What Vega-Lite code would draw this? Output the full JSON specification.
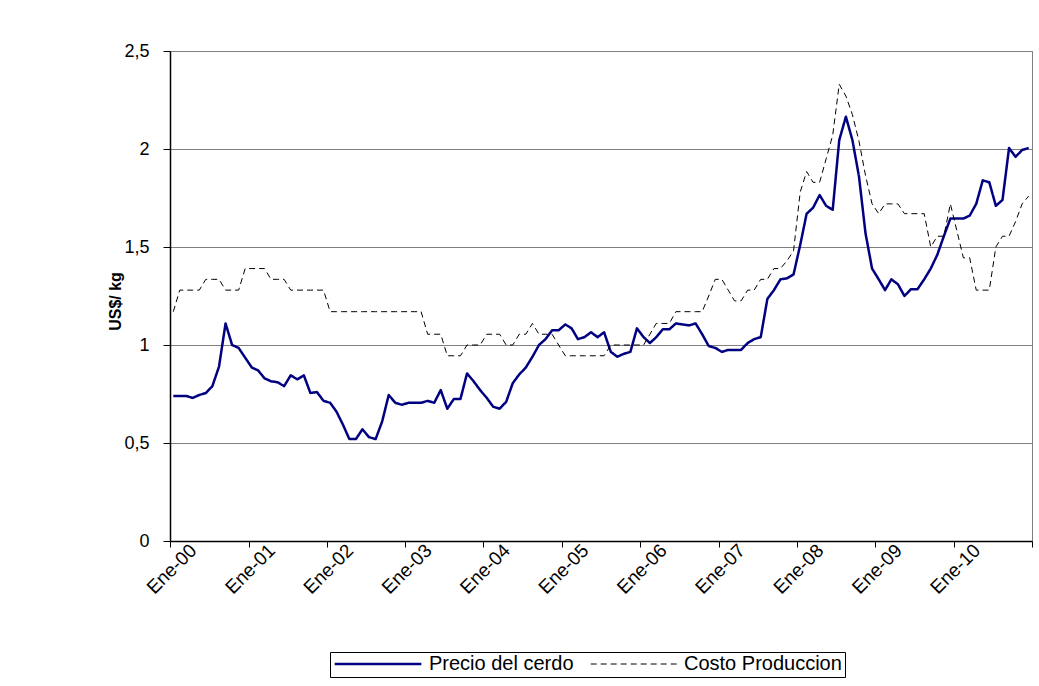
{
  "$schema": "https://vega.github.io/schema/vega-lite/v6.json",
  "width": 862,
  "height": 490,
  "autosize": {"type": "none"},
  "padding": {"left": 170, "top": 51, "right": 7, "bottom": 145},
  "background": "white",
  "config": {
    "font": "Liberation Sans",
    "view": {"stroke": "#808080", "strokeWidth": 1}
  },
  "data": {
    "values": [
      {"fecha": "2000-01", "Precio del cerdo": 0.74, "Costo Produccion": 1.17},
      {"fecha": "2000-02", "Precio del cerdo": 0.74, "Costo Produccion": 1.28},
      {"fecha": "2000-03", "Precio del cerdo": 0.74, "Costo Produccion": 1.28},
      {"fecha": "2000-04", "Precio del cerdo": 0.73, "Costo Produccion": 1.28},
      {"fecha": "2000-05", "Precio del cerdo": 0.745, "Costo Produccion": 1.28},
      {"fecha": "2000-06", "Precio del cerdo": 0.755, "Costo Produccion": 1.335},
      {"fecha": "2000-07", "Precio del cerdo": 0.79, "Costo Produccion": 1.335},
      {"fecha": "2000-08", "Precio del cerdo": 0.89, "Costo Produccion": 1.335},
      {"fecha": "2000-09", "Precio del cerdo": 1.11, "Costo Produccion": 1.28},
      {"fecha": "2000-10", "Precio del cerdo": 1.0, "Costo Produccion": 1.28},
      {"fecha": "2000-11", "Precio del cerdo": 0.985, "Costo Produccion": 1.28},
      {"fecha": "2000-12", "Precio del cerdo": 0.935, "Costo Produccion": 1.39},
      {"fecha": "2001-01", "Precio del cerdo": 0.885, "Costo Produccion": 1.39},
      {"fecha": "2001-02", "Precio del cerdo": 0.87, "Costo Produccion": 1.39},
      {"fecha": "2001-03", "Precio del cerdo": 0.83, "Costo Produccion": 1.39},
      {"fecha": "2001-04", "Precio del cerdo": 0.815, "Costo Produccion": 1.335},
      {"fecha": "2001-05", "Precio del cerdo": 0.81, "Costo Produccion": 1.335},
      {"fecha": "2001-06", "Precio del cerdo": 0.79, "Costo Produccion": 1.335},
      {"fecha": "2001-07", "Precio del cerdo": 0.845, "Costo Produccion": 1.28},
      {"fecha": "2001-08", "Precio del cerdo": 0.825, "Costo Produccion": 1.28},
      {"fecha": "2001-09", "Precio del cerdo": 0.845, "Costo Produccion": 1.28},
      {"fecha": "2001-10", "Precio del cerdo": 0.755, "Costo Produccion": 1.28},
      {"fecha": "2001-11", "Precio del cerdo": 0.76, "Costo Produccion": 1.28},
      {"fecha": "2001-12", "Precio del cerdo": 0.715, "Costo Produccion": 1.28},
      {"fecha": "2002-01", "Precio del cerdo": 0.705, "Costo Produccion": 1.17},
      {"fecha": "2002-02", "Precio del cerdo": 0.66, "Costo Produccion": 1.17},
      {"fecha": "2002-03", "Precio del cerdo": 0.595, "Costo Produccion": 1.17},
      {"fecha": "2002-04", "Precio del cerdo": 0.52, "Costo Produccion": 1.17},
      {"fecha": "2002-05", "Precio del cerdo": 0.52, "Costo Produccion": 1.17},
      {"fecha": "2002-06", "Precio del cerdo": 0.57, "Costo Produccion": 1.17},
      {"fecha": "2002-07", "Precio del cerdo": 0.53, "Costo Produccion": 1.17},
      {"fecha": "2002-08", "Precio del cerdo": 0.52, "Costo Produccion": 1.17},
      {"fecha": "2002-09", "Precio del cerdo": 0.61, "Costo Produccion": 1.17},
      {"fecha": "2002-10", "Precio del cerdo": 0.745, "Costo Produccion": 1.17},
      {"fecha": "2002-11", "Precio del cerdo": 0.705, "Costo Produccion": 1.17},
      {"fecha": "2002-12", "Precio del cerdo": 0.695, "Costo Produccion": 1.17},
      {"fecha": "2003-01", "Precio del cerdo": 0.705, "Costo Produccion": 1.17},
      {"fecha": "2003-02", "Precio del cerdo": 0.705, "Costo Produccion": 1.17},
      {"fecha": "2003-03", "Precio del cerdo": 0.705, "Costo Produccion": 1.17},
      {"fecha": "2003-04", "Precio del cerdo": 0.715, "Costo Produccion": 1.055},
      {"fecha": "2003-05", "Precio del cerdo": 0.705, "Costo Produccion": 1.055},
      {"fecha": "2003-06", "Precio del cerdo": 0.77, "Costo Produccion": 1.055},
      {"fecha": "2003-07", "Precio del cerdo": 0.675, "Costo Produccion": 0.945},
      {"fecha": "2003-08", "Precio del cerdo": 0.725, "Costo Produccion": 0.945},
      {"fecha": "2003-09", "Precio del cerdo": 0.725, "Costo Produccion": 0.945},
      {"fecha": "2003-10", "Precio del cerdo": 0.855, "Costo Produccion": 1.0},
      {"fecha": "2003-11", "Precio del cerdo": 0.815, "Costo Produccion": 1.0},
      {"fecha": "2003-12", "Precio del cerdo": 0.77, "Costo Produccion": 1.0},
      {"fecha": "2004-01", "Precio del cerdo": 0.73, "Costo Produccion": 1.055},
      {"fecha": "2004-02", "Precio del cerdo": 0.685, "Costo Produccion": 1.055},
      {"fecha": "2004-03", "Precio del cerdo": 0.675, "Costo Produccion": 1.055},
      {"fecha": "2004-04", "Precio del cerdo": 0.71, "Costo Produccion": 1.0},
      {"fecha": "2004-05", "Precio del cerdo": 0.805, "Costo Produccion": 1.0},
      {"fecha": "2004-06", "Precio del cerdo": 0.85, "Costo Produccion": 1.055},
      {"fecha": "2004-07", "Precio del cerdo": 0.885, "Costo Produccion": 1.055},
      {"fecha": "2004-08", "Precio del cerdo": 0.94, "Costo Produccion": 1.11},
      {"fecha": "2004-09", "Precio del cerdo": 1.0, "Costo Produccion": 1.055},
      {"fecha": "2004-10", "Precio del cerdo": 1.03, "Costo Produccion": 1.055},
      {"fecha": "2004-11", "Precio del cerdo": 1.075, "Costo Produccion": 1.055},
      {"fecha": "2004-12", "Precio del cerdo": 1.075, "Costo Produccion": 1.0},
      {"fecha": "2005-01", "Precio del cerdo": 1.105, "Costo Produccion": 0.945},
      {"fecha": "2005-02", "Precio del cerdo": 1.085, "Costo Produccion": 0.945},
      {"fecha": "2005-03", "Precio del cerdo": 1.03, "Costo Produccion": 0.945},
      {"fecha": "2005-04", "Precio del cerdo": 1.04, "Costo Produccion": 0.945},
      {"fecha": "2005-05", "Precio del cerdo": 1.065, "Costo Produccion": 0.945},
      {"fecha": "2005-06", "Precio del cerdo": 1.04, "Costo Produccion": 0.945},
      {"fecha": "2005-07", "Precio del cerdo": 1.065, "Costo Produccion": 0.945},
      {"fecha": "2005-08", "Precio del cerdo": 0.965, "Costo Produccion": 1.0},
      {"fecha": "2005-09", "Precio del cerdo": 0.94, "Costo Produccion": 1.0},
      {"fecha": "2005-10", "Precio del cerdo": 0.955, "Costo Produccion": 1.0},
      {"fecha": "2005-11", "Precio del cerdo": 0.965, "Costo Produccion": 1.0},
      {"fecha": "2005-12", "Precio del cerdo": 1.085, "Costo Produccion": 1.0},
      {"fecha": "2006-01", "Precio del cerdo": 1.04, "Costo Produccion": 1.0},
      {"fecha": "2006-02", "Precio del cerdo": 1.01, "Costo Produccion": 1.055},
      {"fecha": "2006-03", "Precio del cerdo": 1.04, "Costo Produccion": 1.11},
      {"fecha": "2006-04", "Precio del cerdo": 1.08, "Costo Produccion": 1.11},
      {"fecha": "2006-05", "Precio del cerdo": 1.08, "Costo Produccion": 1.11},
      {"fecha": "2006-06", "Precio del cerdo": 1.11, "Costo Produccion": 1.17},
      {"fecha": "2006-07", "Precio del cerdo": 1.105, "Costo Produccion": 1.17},
      {"fecha": "2006-08", "Precio del cerdo": 1.1, "Costo Produccion": 1.17},
      {"fecha": "2006-09", "Precio del cerdo": 1.11, "Costo Produccion": 1.17},
      {"fecha": "2006-10", "Precio del cerdo": 1.055, "Costo Produccion": 1.17},
      {"fecha": "2006-11", "Precio del cerdo": 0.995, "Costo Produccion": 1.25},
      {"fecha": "2006-12", "Precio del cerdo": 0.985, "Costo Produccion": 1.335},
      {"fecha": "2007-01", "Precio del cerdo": 0.965, "Costo Produccion": 1.335},
      {"fecha": "2007-02", "Precio del cerdo": 0.975, "Costo Produccion": 1.28},
      {"fecha": "2007-03", "Precio del cerdo": 0.975, "Costo Produccion": 1.225},
      {"fecha": "2007-04", "Precio del cerdo": 0.975, "Costo Produccion": 1.225},
      {"fecha": "2007-05", "Precio del cerdo": 1.01, "Costo Produccion": 1.28},
      {"fecha": "2007-06", "Precio del cerdo": 1.03, "Costo Produccion": 1.28},
      {"fecha": "2007-07", "Precio del cerdo": 1.04, "Costo Produccion": 1.335},
      {"fecha": "2007-08", "Precio del cerdo": 1.235, "Costo Produccion": 1.335},
      {"fecha": "2007-09", "Precio del cerdo": 1.28, "Costo Produccion": 1.39},
      {"fecha": "2007-10", "Precio del cerdo": 1.335, "Costo Produccion": 1.39},
      {"fecha": "2007-11", "Precio del cerdo": 1.34, "Costo Produccion": 1.43},
      {"fecha": "2007-12", "Precio del cerdo": 1.36, "Costo Produccion": 1.48},
      {"fecha": "2008-01", "Precio del cerdo": 1.51, "Costo Produccion": 1.78},
      {"fecha": "2008-02", "Precio del cerdo": 1.67, "Costo Produccion": 1.885},
      {"fecha": "2008-03", "Precio del cerdo": 1.7, "Costo Produccion": 1.83},
      {"fecha": "2008-04", "Precio del cerdo": 1.765, "Costo Produccion": 1.83},
      {"fecha": "2008-05", "Precio del cerdo": 1.71, "Costo Produccion": 1.95},
      {"fecha": "2008-06", "Precio del cerdo": 1.69, "Costo Produccion": 2.07},
      {"fecha": "2008-07", "Precio del cerdo": 2.045, "Costo Produccion": 2.33},
      {"fecha": "2008-08", "Precio del cerdo": 2.165, "Costo Produccion": 2.27},
      {"fecha": "2008-09", "Precio del cerdo": 2.045, "Costo Produccion": 2.175},
      {"fecha": "2008-10", "Precio del cerdo": 1.86, "Costo Produccion": 2.04},
      {"fecha": "2008-11", "Precio del cerdo": 1.57, "Costo Produccion": 1.865},
      {"fecha": "2008-12", "Precio del cerdo": 1.39, "Costo Produccion": 1.72},
      {"fecha": "2009-01", "Precio del cerdo": 1.335, "Costo Produccion": 1.67},
      {"fecha": "2009-02", "Precio del cerdo": 1.28, "Costo Produccion": 1.72},
      {"fecha": "2009-03", "Precio del cerdo": 1.335, "Costo Produccion": 1.72},
      {"fecha": "2009-04", "Precio del cerdo": 1.31, "Costo Produccion": 1.72},
      {"fecha": "2009-05", "Precio del cerdo": 1.25, "Costo Produccion": 1.67},
      {"fecha": "2009-06", "Precio del cerdo": 1.285, "Costo Produccion": 1.67},
      {"fecha": "2009-07", "Precio del cerdo": 1.285, "Costo Produccion": 1.67},
      {"fecha": "2009-08", "Precio del cerdo": 1.335, "Costo Produccion": 1.67},
      {"fecha": "2009-09", "Precio del cerdo": 1.39, "Costo Produccion": 1.5},
      {"fecha": "2009-10", "Precio del cerdo": 1.46, "Costo Produccion": 1.555},
      {"fecha": "2009-11", "Precio del cerdo": 1.555, "Costo Produccion": 1.555},
      {"fecha": "2009-12", "Precio del cerdo": 1.645, "Costo Produccion": 1.72},
      {"fecha": "2010-01", "Precio del cerdo": 1.645, "Costo Produccion": 1.58},
      {"fecha": "2010-02", "Precio del cerdo": 1.645, "Costo Produccion": 1.445},
      {"fecha": "2010-03", "Precio del cerdo": 1.66, "Costo Produccion": 1.445},
      {"fecha": "2010-04", "Precio del cerdo": 1.72, "Costo Produccion": 1.28},
      {"fecha": "2010-05", "Precio del cerdo": 1.84, "Costo Produccion": 1.28},
      {"fecha": "2010-06", "Precio del cerdo": 1.83, "Costo Produccion": 1.28},
      {"fecha": "2010-07", "Precio del cerdo": 1.71, "Costo Produccion": 1.5},
      {"fecha": "2010-08", "Precio del cerdo": 1.74, "Costo Produccion": 1.555},
      {"fecha": "2010-09", "Precio del cerdo": 2.005, "Costo Produccion": 1.555},
      {"fecha": "2010-10", "Precio del cerdo": 1.96, "Costo Produccion": 1.63},
      {"fecha": "2010-11", "Precio del cerdo": 1.995, "Costo Produccion": 1.72},
      {"fecha": "2010-12", "Precio del cerdo": 2.005, "Costo Produccion": 1.76}
    ]
  },
  "transform": [
    {"fold": ["Precio del cerdo", "Costo Produccion"], "as": ["serie", "valor"]}
  ],
  "mark": {"type": "line", "strokeJoin": "round"},
  "encoding": {
    "x": {
      "field": "fecha",
      "type": "temporal",
      "timeUnit": {"unit": "yearmonth", "utc": true},
      "bandPosition": 0.5,
      "scale": {
        "type": "utc",
        "nice": false,
        "domain": [
          {"year": 2000, "month": 1, "date": 1, "utc": true},
          {"year": 2011, "month": 1, "date": 1, "utc": true}
        ]
      },
      "axis": {
        "title": null,
        "grid": false,
        "values": [
          {"year": 2000, "month": 1, "date": 1, "utc": true},
          {"year": 2001, "month": 1, "date": 1, "utc": true},
          {"year": 2002, "month": 1, "date": 1, "utc": true},
          {"year": 2003, "month": 1, "date": 1, "utc": true},
          {"year": 2004, "month": 1, "date": 1, "utc": true},
          {"year": 2005, "month": 1, "date": 1, "utc": true},
          {"year": 2006, "month": 1, "date": 1, "utc": true},
          {"year": 2007, "month": 1, "date": 1, "utc": true},
          {"year": 2008, "month": 1, "date": 1, "utc": true},
          {"year": 2009, "month": 1, "date": 1, "utc": true},
          {"year": 2010, "month": 1, "date": 1, "utc": true},
          {"year": 2011, "month": 1, "date": 1, "utc": true}
        ],
        "labelExpr": "utcFormat(datum.value, '%Y') == '2011' ? '' : 'Ene-' + utcFormat(datum.value, '%y')",
        "labelAngle": -45,
        "labelAlign": "right",
        "labelBaseline": "middle",
        "labelPadding": 0,
        "labelOffset": 23,
        "labelFontSize": 19,
        "labelColor": "black",
        "labelFlush": false,
        "labelOverlap": false,
        "domainColor": "black",
        "domainWidth": 1.5,
        "tickColor": "black",
        "tickSize": 6
      }
    },
    "y": {
      "field": "valor",
      "type": "quantitative",
      "scale": {"domain": [0, 2.5], "nice": false, "zero": true},
      "axis": {
        "title": "US$/ kg",
        "titleFontSize": 16,
        "titleFontWeight": "bold",
        "titleColor": "black",
        "titleAngle": -90,
        "titleAlign": "center",
        "titleBaseline": "middle",
        "titleX": -55,
        "titleY": 250,
        "values": [0, 0.5, 1, 1.5, 2, 2.5],
        "format": ".1~f",
        "labelExpr": "replace(datum.label, '.', ',')",
        "labelFontSize": 18,
        "labelColor": "black",
        "labelPadding": 14,
        "grid": true,
        "gridColor": "#808080",
        "gridWidth": 1,
        "domainColor": "black",
        "domainWidth": 1.5,
        "tickColor": "black",
        "tickSize": 7
      }
    },
    "color": {
      "field": "serie",
      "type": "nominal",
      "scale": {"domain": ["Precio del cerdo", "Costo Produccion"], "range": ["#000080", "#000000"]},
      "legend": {
        "title": null,
        "orient": "none",
        "legendX": 160,
        "legendY": 601,
        "direction": "horizontal",
        "strokeColor": "black",
        "fillColor": "white",
        "padding": 3,
        "symbolType": "stroke",
        "symbolSize": 7500,
        "clipHeight": 18,
        "labelFontSize": 20,
        "labelColor": "black",
        "columnPadding": 16,
        "labelOffset": 6
      }
    },
    "strokeDash": {
      "field": "serie",
      "type": "nominal",
      "scale": {"domain": ["Precio del cerdo", "Costo Produccion"], "range": [[1, 0], [6, 4]]}
    },
    "strokeWidth": {
      "field": "serie",
      "type": "nominal",
      "scale": {"domain": ["Precio del cerdo", "Costo Produccion"], "range": [2.5, 1]}
    }
  }
}
